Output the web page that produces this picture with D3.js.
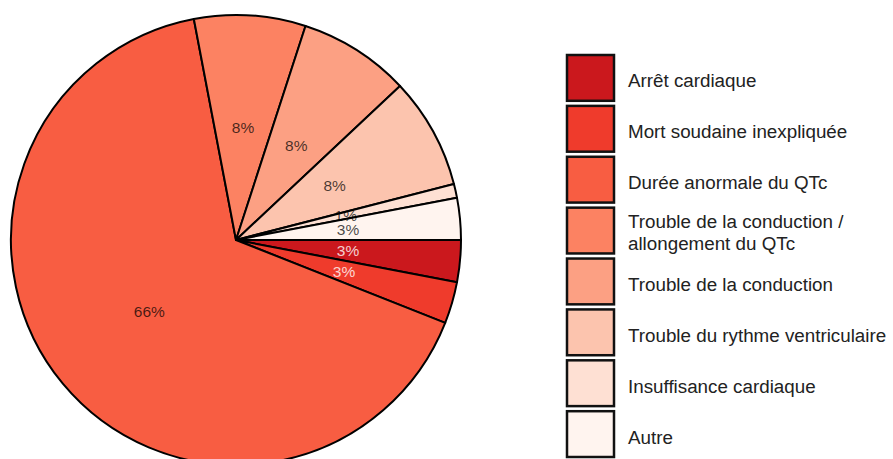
<!DOCTYPE html>
<html>
<head>
  <meta charset="utf-8">
  <script src="https://cdn.jsdelivr.net/npm/d3@7"></script>
  <style>
    body { margin:0; background:#fff; }
    text { font-family: "Liberation Sans", Arial, sans-serif; }
  </style>
</head>
<body>
<svg width="893" height="459"></svg>
<script>
  // data, in pie order (clockwise from 3 o'clock)
  var categories = ["Arrêt cardiaque", "Mort soudaine inexpliquée", "Durée anormale du QTc",
    "Trouble de la conduction / allongement du QTc", "Trouble de la conduction",
    "Trouble du rythme ventriculaire", "Insuffisance cardiaque", "Autre"];
  var legendLabels = [["Arrêt cardiaque"], ["Mort soudaine inexpliquée"], ["Durée anormale du QTc"],
    ["Trouble de la conduction /", "allongement du QTc"], ["Trouble de la conduction"],
    ["Trouble du rythme ventriculaire"], ["Insuffisance cardiaque"], ["Autre"]];
  var percents = [3, 3, 66, 8, 8, 8, 1, 3];
  var colors = ["#cb181d", "#ef3b2c", "#f85d42", "#fc8262", "#fca083", "#fcc4ae", "#fee0d3", "#fff4ef"];
  var darkSlices = ["Arrêt cardiaque", "Mort soudaine inexpliquée"];

  var svg = d3.select("svg");
  var cx = 236, cy = 240, R = 225;

  var color = d3.scaleOrdinal().domain(categories).range(colors);

  var pie = d3.pie()
    .sort(null)
    .value(function (d) { return d.value; })
    .startAngle(Math.PI / 2)
    .endAngle(Math.PI / 2 + 2 * Math.PI);

  var rows = categories.map(function (c, i) { return { name: c, value: percents[i] }; });
  var arcs = pie(rows);

  var arc = d3.arc().innerRadius(0).outerRadius(R);
  var labelArc = d3.arc().innerRadius(R * 0.5).outerRadius(R * 0.5);

  var g = svg.append("g").attr("transform", "translate(" + cx + "," + cy + ")");

  g.selectAll("path")
    .data(arcs)
    .enter().append("path")
      .attr("d", arc)
      .attr("fill", function (d) { return color(d.data.name); })
      .attr("stroke", "#000")
      .attr("stroke-width", 2)
      .attr("stroke-linejoin", "round");

  g.selectAll("text.pct")
    .data(arcs)
    .enter().append("text")
      .attr("class", "pct")
      .attr("transform", function (d) { return "translate(" + labelArc.centroid(d) + ")"; })
      .attr("text-anchor", "middle")
      .attr("dy", "0.36em")
      .style("font-size", "15.5px")
      .attr("fill", function (d) {
        return darkSlices.indexOf(d.data.name) >= 0 ? "rgba(255,255,255,0.8)" : "rgba(0,0,0,0.72)";
      })
      .text(function (d) { return d.data.value + "%"; });

  // legend
  var ly = d3.scaleBand().domain(categories).range([55, 457]).paddingInner(0.1);

  var leg = svg.append("g");
  var item = leg.selectAll("g")
    .data(categories)
    .enter().append("g")
      .attr("transform", function (d) { return "translate(567," + ly(d) + ")"; });

  item.append("rect")
    .attr("width", 47)
    .attr("height", ly.bandwidth())
    .attr("fill", function (d) { return color(d); })
    .attr("stroke", "#111")
    .attr("stroke-width", 2.5);

  item.append("text")
    .attr("y", ly.bandwidth() / 2 + 3)
    .style("font-size", "18.8px")
    .attr("fill", "#222")
    .each(function (d, i) {
      var lines = legendLabels[i];
      var t = d3.select(this);
      lines.forEach(function (l, j) {
        t.append("tspan")
          .attr("x", 61)
          .attr("dy", j === 0 ? (lines.length > 1 ? "-0.32em" : "0.35em") : "1.17em")
          .text(l);
      });
    });
</script>
</body>
</html>
